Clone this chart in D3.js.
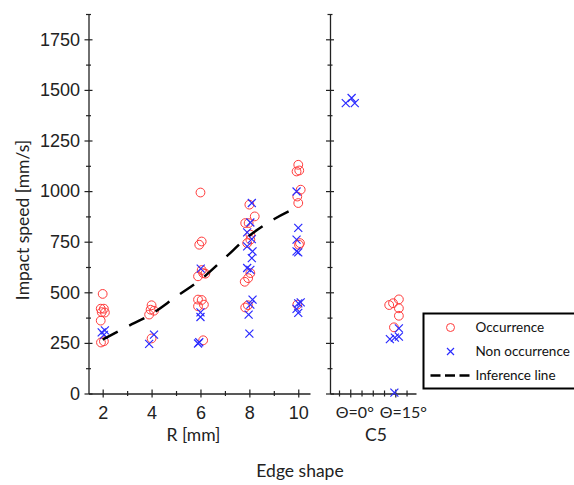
<!DOCTYPE html>
<html>
<head>
<meta charset="utf-8">
<script src="https://cdn.jsdelivr.net/npm/d3@7"></script>
<style>
  body { margin: 0; background: #fff; }
  svg { display: block; }
</style>
</head>
<body>
<svg></svg>
<script>
const width = 574;
const height = 485;

// R [mm] panel, [R, impact speed]
const occurrenceR = [
  [2.0, 492], [1.92, 419], [2.05, 419], [2.09, 400], [1.96, 402], [1.92, 360], [1.93, 252], [2.05, 258],
  [4.0, 436], [3.96, 414], [4.1, 409], [3.9, 390], [4.0, 272],
  [6.0, 993], [6.05, 751], [5.95, 735], [6.05, 610], [6.11, 595], [6.2, 592], [5.9, 579],
  [5.9, 464], [6.05, 462], [5.9, 431], [6.14, 439], [6.11, 263],
  [8.0, 933], [7.83, 842], [7.97, 842], [8.22, 875], [8.04, 785], [8.04, 760], [7.91, 743],
  [8.04, 595], [7.81, 552], [7.95, 570], [7.83, 425], [7.94, 436],
  [10.0, 1130], [9.93, 1097], [10.04, 1102], [10.1, 1007], [9.96, 973], [10.0, 941],
  [10.07, 743], [10.03, 735], [9.96, 439]
];
const nonOccurrenceR = [
  [1.96, 302], [2.09, 312], [2.05, 290],
  [4.1, 291], [3.9, 245],
  [6.01, 617], [6.0, 401], [6.0, 378], [5.9, 247], [5.95, 253],
  [8.1, 941], [8.04, 845], [7.91, 796], [8.1, 763], [7.91, 727], [8.13, 702], [8.1, 669],
  [7.91, 620], [8.04, 611], [8.13, 464], [8.04, 439], [7.97, 390], [8.0, 296],
  [9.93, 998], [10.0, 818], [9.93, 760], [9.93, 702], [10.0, 697],
  [10.0, 445], [10.1, 450], [9.93, 418], [10.0, 398]
];
const inferenceR = [2, 3, 4, 5, 6, 7, 8, 9, 10];
const inferenceV = [266, 330, 393, 478, 562, 670, 780, 861, 923];

// C5 panel, 1 = Θ=0°, 2 = Θ=15°
const occurrenceC5 = [[1.865, 437], [1.95, 446], [2.08, 465], [2.08, 421], [2.08, 384], [1.97, 327]];
const nonOccurrenceC5 = [[0.9, 1435], [1.03, 1460], [1.1, 1435], [1.88, 269], [1.99, 276], [2.08, 281], [2.08, 322], [1.98, 4]];
const c5Categories = [1, 2];
const c5Labels = ["Θ=0°", "Θ=15°"];

const yTicks = d3.range(0, 1876, 125);
const rTicks = d3.range(2, 11, 1);
const c5Ticks = d3.range(0.75, 2.3, 0.25);

const legendLabels = ["Occurrence", "Non occurrence", "Inference line"];

const red = "#ff3b3b";
const blue = "#2a2aff";
const axisColor = "#222";

const svg = d3.select("svg")
  .attr("width", width)
  .attr("height", height);

const y = d3.scaleLinear().domain([0, 1875]).range([393.5, 14]);
const xR = d3.scaleLinear().domain([1.42, 10.48]).range([88.5, 310]);
const xC = d3.scaleLinear().domain([0.55, 2.46]).range([330, 416]);

function styleAxis(g) {
  g.select(".domain").attr("stroke", axisColor).attr("stroke-width", 1.3);
  g.selectAll(".tick line").attr("stroke", axisColor).attr("stroke-width", 1.2);
}

// left y axis (labelled)
const yAxisL = svg.append("g")
  .attr("transform", `translate(${xR.range()[0]},0)`)
  .call(d3.axisLeft(y).tickValues(yTicks).tickSizeOuter(0)
    .tickFormat(d => d % 250 ? "" : d));
yAxisL.selectAll(".tick line")
  .attr("x1", d => d % 250 ? -2.5 : -4)
  .attr("x2", d => d % 250 ? 2.5 : 4);
yAxisL.selectAll(".tick text")
  .attr("x", -8.5)
  .style("font-family", "'Liberation Sans', Arial, sans-serif")
  .style("font-size", "18px")
  .attr("fill", axisColor);
styleAxis(yAxisL);

// right y axis (no labels)
const yAxisC = svg.append("g")
  .attr("transform", `translate(${xC.range()[0]},0)`)
  .call(d3.axisLeft(y).tickValues(yTicks).tickSizeOuter(0).tickFormat(""));
yAxisC.selectAll(".tick line")
  .attr("x1", d => d % 250 ? -2.5 : -4)
  .attr("x2", d => d % 250 ? 2.5 : 4);
styleAxis(yAxisC);

// R x axis
const xAxisR = svg.append("g")
  .attr("transform", `translate(0,${y(0)})`)
  .call(d3.axisBottom(xR).tickValues(rTicks).tickSizeOuter(0)
    .tickFormat(d => d % 2 ? "" : d));
xAxisR.selectAll(".tick line")
  .attr("y1", d => d % 2 ? -2.5 : -4)
  .attr("y2", d => d % 2 ? 2.5 : 4);
xAxisR.selectAll(".tick text")
  .attr("y", 13)
  .style("font-family", "'Liberation Sans', Arial, sans-serif")
  .style("font-size", "18px")
  .attr("fill", axisColor);
styleAxis(xAxisR);

// C5 x axis
const xAxisC = svg.append("g")
  .attr("transform", `translate(0,${y(0)})`)
  .call(d3.axisBottom(xC).tickValues(c5Ticks).tickSizeOuter(0)
    .tickFormat(d => {
      const i = c5Categories.indexOf(d);
      return i >= 0 ? c5Labels[i] : "";
    }));
xAxisC.selectAll(".tick line")
  .attr("y1", d => c5Categories.includes(d) ? -4 : -3)
  .attr("y2", d => c5Categories.includes(d) ? 4 : 3);
xAxisC.selectAll(".tick text")
  .attr("y", 13)
  .attr("dx", d => d === 1 ? 4 : 7.5)
  .style("font-family", "Lato, sans-serif")
  .style("font-size", "16px")
  .attr("fill", axisColor);
styleAxis(xAxisC);

// markers
function drawCircles(data, x) {
  svg.append("g").selectAll("circle")
    .data(data)
    .join("circle")
    .attr("cx", d => x(d[0]))
    .attr("cy", d => y(d[1]))
    .attr("r", 4.4)
    .attr("fill", "none")
    .attr("stroke", red)
    .attr("stroke-width", 1);
}
const crossPath = "M-4,-4L4,4M-4,4L4,-4";
function drawCrosses(data, x) {
  svg.append("g").selectAll("path")
    .data(data)
    .join("path")
    .attr("transform", d => `translate(${x(d[0])},${y(d[1])})`)
    .attr("d", crossPath)
    .attr("fill", "none")
    .attr("stroke", blue)
    .attr("stroke-width", 1.2);
}

drawCircles(occurrenceR, xR);
drawCircles(occurrenceC5, xC);
drawCrosses(nonOccurrenceR, xR);
drawCrosses(nonOccurrenceC5, xC);

// inference line
const line = d3.line()
  .x((d, i) => xR(inferenceR[i]))
  .y(d => y(d))
  .curve(d3.curveMonotoneX);

svg.append("path")
  .datum(inferenceV)
  .attr("d", line)
  .attr("fill", "none")
  .attr("stroke", "#000")
  .attr("stroke-width", 2.5)
  .attr("stroke-dasharray", "17,13");

// axis titles
const titleFont = "Lato, sans-serif";
svg.append("text")
  .attr("transform", "translate(29,220) rotate(-90)")
  .attr("text-anchor", "middle")
  .style("font-family", titleFont)
  .style("font-size", "17.5px")
  .attr("fill", axisColor)
  .text("Impact speed [mm/s]");

svg.append("text")
  .attr("x", 193.5).attr("y", 441)
  .attr("text-anchor", "middle")
  .style("font-family", titleFont)
  .style("font-size", "17.5px")
  .attr("fill", axisColor)
  .text("R [mm]");

svg.append("text")
  .attr("x", 376).attr("y", 441)
  .attr("text-anchor", "middle")
  .style("font-family", titleFont)
  .style("font-size", "17.5px")
  .attr("fill", axisColor)
  .text("C5");

svg.append("text")
  .attr("x", 300).attr("y", 477)
  .attr("text-anchor", "middle")
  .style("font-family", titleFont)
  .style("font-size", "17.5px")
  .attr("fill", axisColor)
  .text("Edge shape");

// legend
const legend = svg.append("g").attr("transform", "translate(423.5,313.5)");
legend.append("rect")
  .attr("width", 160).attr("height", 75)
  .attr("fill", "#fff")
  .attr("stroke", "#000")
  .attr("stroke-width", 2);

const rows = legend.selectAll("g.row")
  .data(legendLabels)
  .join("g")
  .attr("class", "row")
  .attr("transform", (d, i) => `translate(0,${14 + i * 24})`);

rows.append("text")
  .attr("x", 52)
  .attr("dy", "0.35em")
  .style("font-family", titleFont)
  .style("font-size", "13.5px")
  .attr("fill", "#111")
  .text(d => d);

rows.filter((d, i) => i === 0).append("circle")
  .attr("cx", 27).attr("r", 4)
  .attr("fill", "none").attr("stroke", red).attr("stroke-width", 1);
rows.filter((d, i) => i === 1).append("path")
  .attr("transform", "translate(27,0)")
  .attr("d", "M-3.5,-3.5L3.5,3.5M-3.5,3.5L3.5,-3.5")
  .attr("fill", "none").attr("stroke", blue).attr("stroke-width", 1.2);
rows.filter((d, i) => i === 2).append("line")
  .attr("x1", 7).attr("x2", 50)
  .attr("stroke", "#000").attr("stroke-width", 2.5)
  .attr("stroke-dasharray", "10,4.5");
</script>
</body>
</html>
